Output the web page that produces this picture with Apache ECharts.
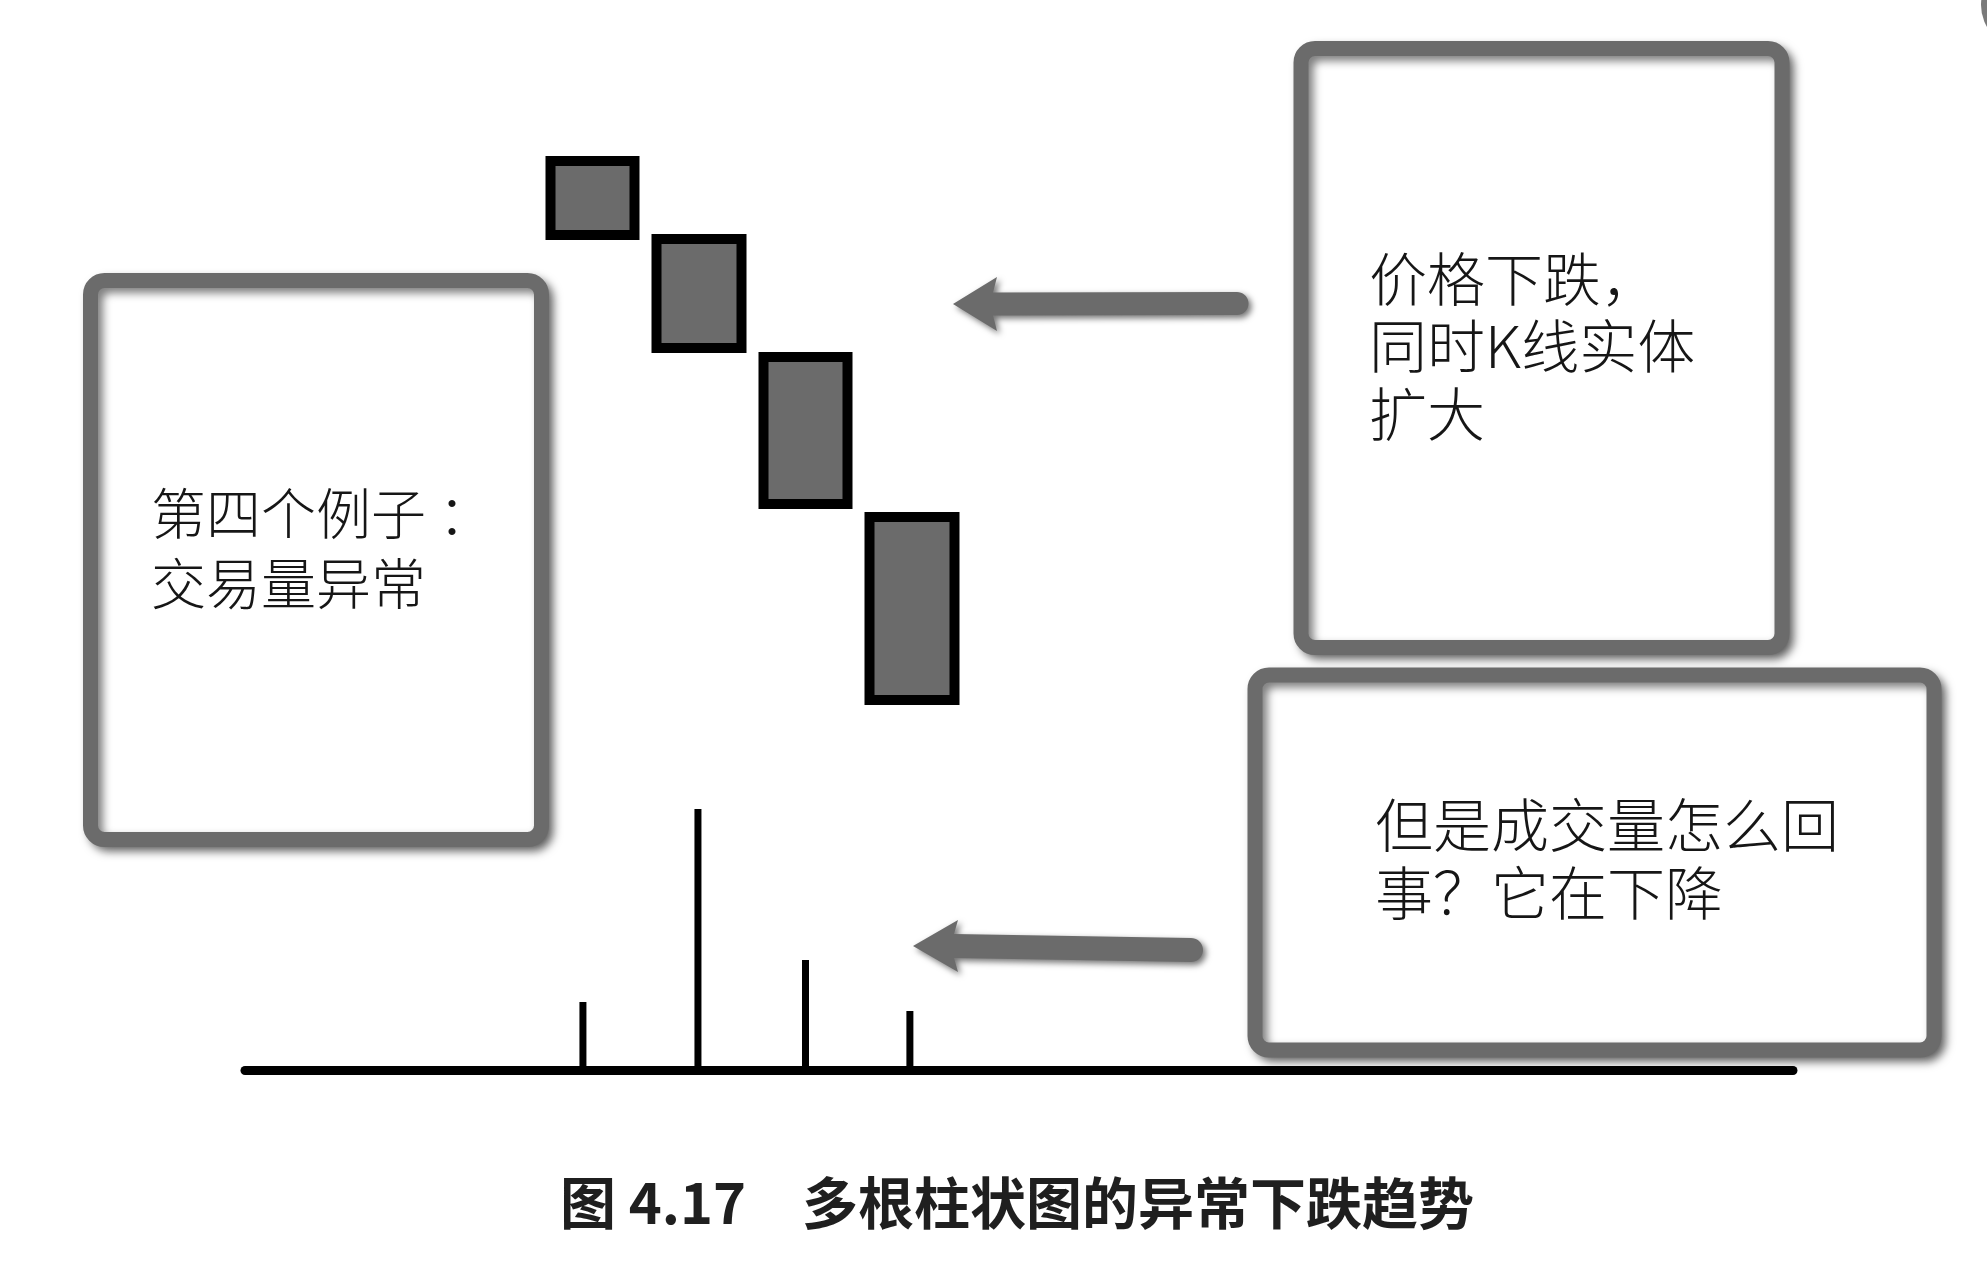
<!DOCTYPE html>
<html>
<head>
<meta charset="utf-8">
<title>多根柱状图的异常下跌趋势</title>
<script src="https://cdn.jsdelivr.net/npm/echarts@6/dist/echarts.min.js"></script>
<style>
  html, body { margin: 0; padding: 0; background: #fff; }
  #chart { width: 1987px; height: 1265px; }
</style>
</head>
<body>
<div id="chart"></div>
<script>
// K线: 四根连续下跌的阴线, 实体逐根变长
const candleCats = ['1', '2', '3', '4']
const candleOpen = [54.9, 47.1, 35.3, 19.3]
const candleClose = [47.5, 36.2, 20.6, 1.0]

// 成交量: 竖线位置与高度
const volumeX = [0.91, 1.99, 3.0, 3.98]
const volumeValues = [34, 130.5, 55, 29.5]

// 说明文字
const leftNote = ['第四个例子 ：', '交易量异常']
const topNote = ['价格下跌，', '同时K线实体', '扩大']
const bottomNote = ['但是成交量怎么回', '事？它在下降']
const caption = '图 4.17　多根柱状图的异常下跌趋势'

const GRAY = '#6b6b6b'
const FONT = '"Noto Sans CJK SC", "Noto Sans", sans-serif'

const chart = echarts.init(document.getElementById('chart'))

const boxStyle = {
  fill: '#fff',
  stroke: GRAY,
  lineWidth: 15,
  shadowBlur: 9,
  shadowOffsetX: 5,
  shadowOffsetY: 5,
  shadowColor: 'rgba(0,0,0,0.5)'
}
const arrowStyle = {
  fill: GRAY,
  shadowBlur: 6,
  shadowOffsetX: 3,
  shadowOffsetY: 3,
  shadowColor: 'rgba(0,0,0,0.55)'
}

function note(lines, x, y, size, lineHeight) {
  return {
    type: 'text',
    x: x,
    y: y,
    z: 10,
    style: {
      text: lines.join('\n'),
      fontSize: size,
      fontFamily: FONT,
      fontWeight: 300,
      lineHeight: lineHeight,
      fill: '#161616',
      textAlign: 'left',
      align: 'left',
      textVerticalAlign: 'middle',
      verticalAlign: 'middle'
    }
  }
}

// 左向箭头: 尖端 (tipX, tipY), 箭杆末端圆头
function arrow(tipX, tipY, tailX, tailY, half, headLen, headHalf) {
  const hx = tipX + headLen
  const notch = hx - 4
  const pts = [
    [tipX, tipY],
    [hx, tipY - headHalf],
    [notch, tipY - half],
    [tailX, tailY - half]
  ]
  for (let a = -90; a <= 90; a += 10) {
    const r = a * Math.PI / 180
    pts.push([tailX + half * Math.cos(r), tailY + half * Math.sin(r)])
  }
  pts.push([tailX, tailY + half], [notch, tipY + half], [hx, tipY + headHalf])
  return { type: 'polygon', z: 5, shape: { points: pts }, style: arrowStyle }
}

chart.setOption({
  animation: false,
  backgroundColor: '#fff',
  grid: [
    { left: 539, width: 426, top: 150, height: 560 },
    { left: 245, width: 1548, top: 800, height: 270 }
  ],
  xAxis: [
    {
      type: 'category',
      gridIndex: 0,
      data: candleCats,
      show: false
    },
    {
      type: 'value',
      gridIndex: 1,
      min: -2.263,
      max: 12.272,
      axisLine: { show: true, onZero: true, lineStyle: { color: '#000', width: 9, cap: 'round' } },
      axisTick: { show: false },
      axisLabel: { show: false },
      splitLine: { show: false }
    }
  ],
  yAxis: [
    { type: 'value', gridIndex: 0, min: 0, max: 56, show: false },
    { type: 'value', gridIndex: 1, min: 0, max: 135, show: false }
  ],
  series: [
    {
      name: 'K线',
      type: 'candlestick',
      xAxisIndex: 0,
      yAxisIndex: 0,
      barWidth: 85,
      data: candleOpen.map((o, i) => {
        const c = candleClose[i]
        return [o, c, Math.min(o, c), Math.max(o, c)]
      }),
      itemStyle: {
        color: GRAY,
        color0: GRAY,
        borderColor: '#000',
        borderColor0: '#000',
        borderWidth: 10
      }
    },
    {
      name: '成交量',
      type: 'bar',
      xAxisIndex: 1,
      yAxisIndex: 1,
      barWidth: 7,
      data: volumeX.map((x, i) => [x, volumeValues[i]]),
      itemStyle: { color: '#000' }
    }
  ],
  graphic: [
    // 三个说明框
    { type: 'rect', z: 5, shape: { x: 90.5, y: 280.5, width: 451, height: 559, r: 14 }, style: boxStyle },
    { type: 'rect', z: 5, shape: { x: 1301, y: 48.5, width: 481, height: 599, r: 14 }, style: boxStyle },
    { type: 'rect', z: 5, shape: { x: 1255, y: 675, width: 679, height: 375, r: 14 }, style: boxStyle },
    note(leftNote, 151, 548, 55, 70),
    note(topNote, 1369, 346, 58, 67.5),
    note(bottomNote, 1375, 859, 58, 68),
    // 箭头
    arrow(953, 304, 1237, 303.5, 11.5, 44, 27),
    arrow(913, 946, 1191, 950, 12, 45, 26),
    // 右上角的灰色边角
    { type: 'circle', z: 1, shape: { cx: 2024, cy: 5, r: 43 }, style: { fill: '#7a7a7a' } },
    // 图题
    {
      type: 'text',
      x: 560,
      y: 1203,
      style: {
        text: caption,
        fontSize: 56,
        fontWeight: 'bold',
        fontFamily: FONT,
        fill: '#1f1f1f',
        textAlign: 'left',
        align: 'left',
        textVerticalAlign: 'middle',
        verticalAlign: 'middle'
      }
    }
  ]
})
</script>
</body>
</html>
